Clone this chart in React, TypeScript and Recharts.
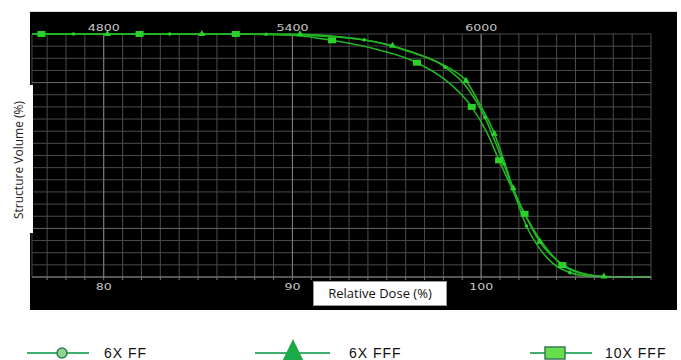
import React from "react";
import { LineChart, Line, XAxis, YAxis, CartesianGrid, ReferenceLine } from "recharts";

// relative dose (%) / structure volume (%)
const dose6xFF = [76.2, 78.4, 83.5, 88.6, 91.0, 93.8, 96.0, 98.1, 99.3, 100.2, 100.7, 101.2, 101.8, 102.4, 103.0, 103.8, 104.7, 105.5, 106.5, 109.0];
const vol6xFF = [100, 100, 100, 99.9, 99.4, 97.6, 93.2, 86.3, 77.5, 65.7, 56.5, 46.5, 33.5, 21.0, 12.8, 5.6, 1.8, 0.5, 0.1, 0];
const mark6xFF = [1, 2, 3, 5, 7, 9, 11, 13, 16];

const dose6xFFF = [76.2, 80.2, 85.2, 90.4, 92.5, 95.3, 97.2, 98.4, 99.2, 99.9, 100.7, 101.2, 101.7, 102.4, 103.1, 104.0, 104.9, 105.7, 106.5, 109.0];
const vol6xFFF = [100, 100, 100, 99.9, 98.9, 95.2, 90.0, 85.5, 80.8, 71.5, 59.0, 48.0, 36.5, 24.5, 14.5, 7.0, 2.8, 0.9, 0.2, 0];
const mark6xFFF = [1, 2, 3, 5, 8, 10, 12, 14, 18];

const dose10xFFF = [76.2, 76.7, 81.9, 87.0, 90.0, 92.1, 94.5, 96.6, 98.2, 99.5, 100.3, 100.95, 101.6, 102.3, 103.2, 104.3, 105.2, 106.0, 107.0, 109.0];
const vol10xFFF = [100, 100, 100, 100, 99.5, 97.4, 93.6, 88.2, 80.5, 70.0, 59.5, 48.0, 37.0, 26.0, 14.5, 4.9, 1.6, 0.5, 0.1, 0];
const mark10xFFF = [1, 2, 3, 5, 7, 9, 11, 13, 15];

const gridDose = [77, 78, 79, 80, 81, 82, 83, 84, 85, 86, 87, 88, 89, 90, 91, 92, 93, 94, 95, 96, 97, 98, 99, 100, 101, 102, 103, 104, 105, 106, 107, 108, 109];
const labelDose = [80, 90, 100];
const gridVol = [0, 5, 10, 15, 20, 25, 30, 35, 40, 45, 50, 55, 60, 65, 70, 75, 80, 85, 90, 95, 100];
const majorVol = [20, 80];
const prescription = 60; // cGy per 1 % (6000 cGy = 100 %)

const toRows = (d: number[], v: number[]) => d.map((x, i) => ({ d: x, v: v[i] }));

const GREEN = "#22b522";
const MARK = "#2bd12b";

function marker(shape: string, marks: number[]) {
  return (p: any) => {
    const { cx, cy, index } = p;
    if (!marks.includes(index) || cx == null) return <g key={`m${index}`} />;
    if (shape === "square")
      return <rect key={`m${index}`} x={cx - 4} y={cy - 3} width={8} height={6} fill={MARK} />;
    if (shape === "triangle")
      return <path key={`m${index}`} d={`M${cx},${cy - 4}L${cx + 3.5},${cy + 2}L${cx - 3.5},${cy + 2}Z`} fill={MARK} />;
    return <circle key={`m${index}`} cx={cx} cy={cy} r={1.8} fill={MARK} />;
  };
}

const BottomTick = (p: any) => {
  const { x, y, payload } = p;
  if (!labelDose.includes(payload.value)) return <g />;
  return (
    <g transform={`translate(${x},${y})`}>
      <text transform="scale(1.4,1)" textAnchor="middle" dy={7} fontSize={9} fill="#c8c8c8" fontFamily="DejaVu Sans">
        {payload.value}
      </text>
    </g>
  );
};

const TopTick = (p: any) => {
  const { x, y, payload } = p;
  return (
    <g transform={`translate(${x},${y})`}>
      <text transform="scale(1.4,1)" textAnchor="middle" dy={0} fontSize={9} fill="#c8c8c8" fontFamily="DejaVu Sans">
        {payload.value * prescription}
      </text>
    </g>
  );
};

export default function App() {
  return (
    <div style={{ position: "absolute", left: 0, top: 0, width: 681, height: 360, background: "#fff", overflow: "hidden" }}>
      <div style={{ position: "absolute", left: 30, top: 11, width: 647, height: 298, background: "#000", borderTop: "1px solid #ddd" }} />
      <div style={{ position: "absolute", left: 0, top: 0 }}>
        <LineChart width={681} height={360} margin={{ top: 14, right: 30, bottom: 63, left: 32 }}>
          <CartesianGrid stroke="#4a4a4a" strokeWidth={1} horizontal={false} />
          <XAxis
            type="number"
            dataKey="d"
            domain={[76.2, 109]}
            allowDataOverflow
            ticks={gridDose}
            interval={0}
            height={20}
            tickSize={3}
            tickMargin={3}
            tick={<BottomTick />}
            tickLine={{ stroke: "#777" }}
            axisLine={{ stroke: "#888" }}
          />
          <XAxis
            xAxisId="top"
            orientation="top"
            type="number"
            dataKey="d"
            domain={[76.2, 109]}
            allowDataOverflow
            ticks={labelDose}
            interval={0}
            height={20}
            tickSize={0}
            tickMargin={3}
            tick={<TopTick />}
            tickLine={false}
            axisLine={false}
          />
          <YAxis type="number" domain={[0, 100]} ticks={gridVol} width={0} tick={false} axisLine={false} tickLine={false} />
          {gridVol.map((y) => (
            <ReferenceLine key={`gy${y}`} y={y} stroke={majorVol.includes(y) ? "#6a6a6a" : "#4a4a4a"} strokeWidth={1} />
          ))}
          {labelDose.map((x) => (
            <ReferenceLine key={`rx${x}`} x={x} stroke="#808080" strokeWidth={1} />
          ))}
          <Line data={toRows(dose10xFFF, vol10xFFF)} dataKey="v" type="monotone" stroke={GREEN} strokeWidth={1.6} dot={marker("square", mark10xFFF)} isAnimationActive={false} />
          <Line data={toRows(dose6xFF, vol6xFF)} dataKey="v" type="monotone" stroke={GREEN} strokeWidth={1.6} dot={marker("circle", mark6xFF)} isAnimationActive={false} />
          <Line data={toRows(dose6xFFF, vol6xFFF)} dataKey="v" type="monotone" stroke={GREEN} strokeWidth={1.6} dot={marker("triangle", mark6xFFF)} isAnimationActive={false} />
          {/* keeps the top dose axis bound to a series */}
          <Line xAxisId="top" data={toRows(dose6xFF, vol6xFF)} dataKey="v" stroke="none" dot={false} isAnimationActive={false} />
        </LineChart>
      </div>
      <svg width={681} height={360} style={{ position: "absolute", left: 0, top: 0, pointerEvents: "none" }}>
        {/* axis title boxes */}
        <rect x={0} y={85} width={33} height={148} fill="#fff" />
        <text transform="translate(23,160) rotate(-90)" textAnchor="middle" fontSize={12} fontFamily="Open Sans" fill="#222">
          Structure Volume (%)
        </text>
        <rect x={313.5} y={281.5} width={133} height={24} fill="#fff" stroke="#999" />
        <text x={380} y={298} textAnchor="middle" fontSize={13} fontFamily="Open Sans" fill="#111">
          Relative Dose (%)
        </text>
        {/* legend */}
        <line x1={27} y1={353} x2={89} y2={353} stroke="#3fae6e" strokeWidth={2} />
        <circle cx={62} cy={353} r={5} fill="#8fd48a" stroke="#2f7d5c" strokeWidth={1.5} />
        <text x={104} y={358} fontSize={14} fontFamily="Liberation Sans" fill="#111" letterSpacing={1}>6X FF</text>
        <line x1={255} y1={353} x2={330} y2={353} stroke="#3fae6e" strokeWidth={2} />
        <path d="M293,339L306,366L280,366Z" fill="#1aaa48" />
        <text x={349} y={358} fontSize={14} fontFamily="Liberation Sans" fill="#111" letterSpacing={1}>6X FFF</text>
        <line x1={530} y1={353} x2={592} y2={353} stroke="#3fae6e" strokeWidth={2} />
        <rect x={545} y={347} width={20} height={12} fill="#66e04a" stroke="#3a7a5a" strokeWidth={1.5} />
        <text x={605} y={358} fontSize={14} fontFamily="Liberation Sans" fill="#111" letterSpacing={1}>10X FFF</text>
      </svg>
    </div>
  );
}
